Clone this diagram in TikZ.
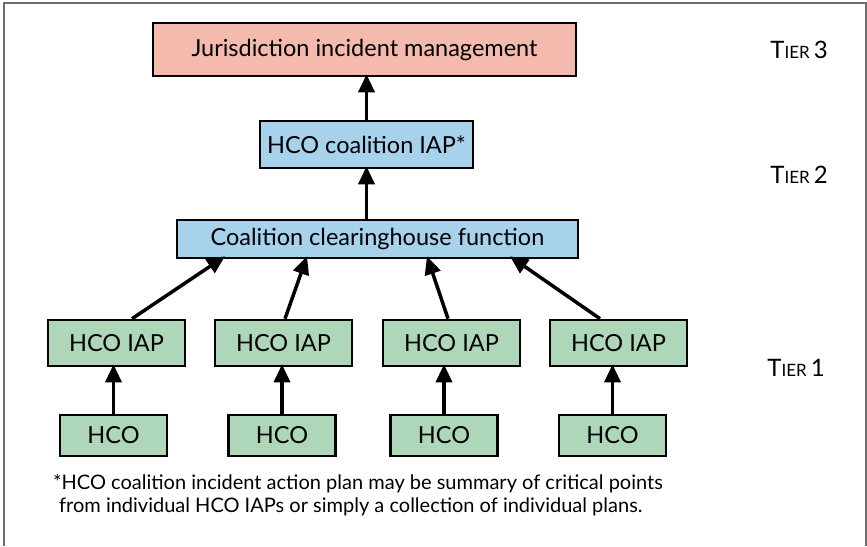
\documentclass[tikz,border=0pt]{standalone}
\usepackage{fontspec}
\setmainfont{Lato}
\usetikzlibrary{arrows.meta}

\definecolor{tierred}{RGB}{244,186,174}
\definecolor{tierblue}{RGB}{167,210,236}
\definecolor{tiergreen}{RGB}{174,214,184}
\definecolor{framegray}{RGB}{110,110,110}

\tikzset{
  box/.style={draw=black, line width=2.6pt, inner sep=0pt, font=\fontsize{23.5}{28}\selectfont},
  upto/.style={line width=3.5pt, -{Triangle[length=18pt,width=16pt]}},
  tierlabel/.style={font=\fontsize{24}{28}\selectfont},
}
\newcommand{\tiername}[1]{T{\fontsize{17}{20}\selectfont IER}\,#1}

\begin{document}
\begin{tikzpicture}[x=1pt,y=-1pt]
    \useasboundingbox (0,0) rectangle (867,546);
    % frame
    \draw[framegray, line width=1.2pt] (4,546) -- (4,3) -- (866,3) -- (866,546);

    % tier 3 and tier 2
    \node[box, fill=tierred, minimum width=423, minimum height=53] (jur) at (364.5,49.5) {Jurisdiction incident management};
    \node[box, fill=tierblue, minimum width=213, minimum height=47] (iapc) at (366.5,144.5) {HCO coalition IAP*};
    \node[box, fill=tierblue, minimum width=401, minimum height=38] (clear) at (377.5,239) {Coalition clearinghouse function};

    % tier 1
    \foreach \i/\xa/\xb in {1/116.5/113.5, 2/283.5/282, 3/451.5/444, 4/618.5/612.5} {
      \node[box, fill=tiergreen, minimum width=137, minimum height=46] (iap\i) at (\xa,343) {HCO IAP};
      \node[box, fill=tiergreen, minimum width=107, minimum height=41] (hco\i) at (\xb,435.5) {HCO};
      \draw[upto] (hco\i.north) -- ([yshift=3]hco\i.north |- iap\i.south);
    }

    \draw[upto] (iapc.north) -- ([yshift=3]iapc.north |- jur.south);
    \draw[upto] (iapc.south |- clear.north) -- ([yshift=3]iapc.south);

    \draw[upto] ([xshift=15.5]iap1.north) -- ([xshift=-152.5,yshift=3]clear.south);
    \draw[upto] ([xshift=1.5]iap2.north) -- ([xshift=-70.5,yshift=3]clear.south);
    \draw[upto] ([xshift=-3.5]iap3.north) -- ([xshift=49.5,yshift=3]clear.south);
    \draw[upto] ([xshift=-18.5]iap4.north) -- ([xshift=132.5,yshift=3]clear.south);

    % tiers
    \node[tierlabel] (t3) at (799,50) {\tiername{3}};
    \node[tierlabel] (t2) at (799,175) {\tiername{2}};
    \node[tierlabel] (t1) at (796,368) {\tiername{1}};

    % footnote
    \node[anchor=west, inner sep=0pt, font=\fontsize{20}{24}\selectfont] (note1) at (53,484) {*HCO coalition incident action plan may be summary of critical points};
    \node[anchor=west, inner sep=0pt, font=\fontsize{20}{24}\selectfont] (note2) at (59,507) {from individual HCO IAPs or simply a collection of individual plans.};
\end{tikzpicture}
\end{document}
